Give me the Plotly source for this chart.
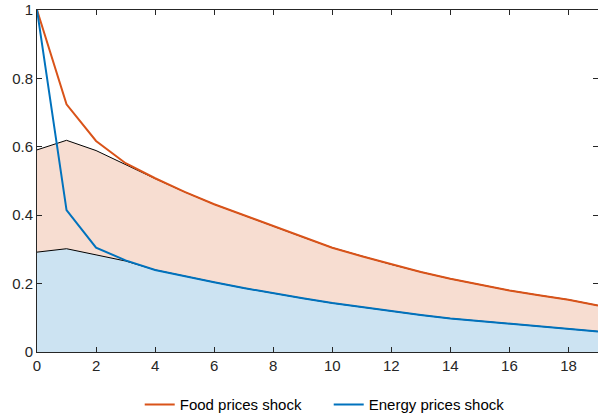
import plotly.graph_objects as go

horizons = list(range(20))
food = [1.0, 0.724, 0.617, 0.552, 0.508, 0.468, 0.432, 0.400, 0.367, 0.336, 0.305,
        0.280, 0.256, 0.234, 0.214, 0.197, 0.180, 0.166, 0.153, 0.136]
energy = [1.0, 0.415, 0.305, 0.268, 0.240, 0.221, 0.204, 0.187, 0.171, 0.157, 0.143,
          0.131, 0.119, 0.108, 0.098, 0.090, 0.082, 0.075, 0.068, 0.060]
food_band = [0.591, 0.619, 0.589, 0.547, 0.507, 0.468, 0.432, 0.400, 0.367, 0.336, 0.305,
             0.280, 0.256, 0.234, 0.214, 0.197, 0.180, 0.166, 0.153, 0.136]
energy_band = [0.292, 0.302, 0.284, 0.266, 0.240, 0.221, 0.204, 0.187, 0.171, 0.157, 0.143,
               0.131, 0.119, 0.108, 0.098, 0.090, 0.082, 0.075, 0.068, 0.060]

ORANGE = "#D95319"
BLUE = "#0072BD"

fig = go.Figure()
fig.add_trace(go.Scatter(x=horizons, y=food_band, mode="lines", fill="tozeroy",
                         fillcolor="#F7DDD1", line=dict(color="black", width=1),
                         showlegend=False, hoverinfo="skip"))
fig.add_trace(go.Scatter(x=horizons, y=energy_band, mode="lines", fill="tozeroy",
                         fillcolor="#CCE3F2", line=dict(color="black", width=1),
                         showlegend=False, hoverinfo="skip"))
fig.add_trace(go.Scatter(x=horizons, y=food, mode="lines", name="Food prices shock",
                         line=dict(color=ORANGE, width=2)))
fig.add_trace(go.Scatter(x=horizons, y=energy, mode="lines", name="Energy prices shock",
                         line=dict(color=BLUE, width=2)))

axis_common = dict(showgrid=False, zeroline=False, showline=True, linecolor="#262626",
                   linewidth=1, ticks="inside", ticklen=5, tickcolor="#262626",
                   mirror="ticks", automargin=False,
                   tickfont=dict(family="Liberation Sans, Arial", size=15, color="#262626"))

fig.update_layout(
    width=598, height=415,
    margin=dict(l=37, r=0, t=10, b=63),
    plot_bgcolor="white", paper_bgcolor="white",
    xaxis=dict(range=[0, 19], tickvals=list(range(0, 19, 2)), ticklabelstandoff=0,
               **axis_common),
    yaxis=dict(range=[0, 1], tickvals=[0, 0.2, 0.4, 0.6, 0.8, 1],
               ticktext=["0", "0.2", "0.4", "0.6", "0.8", "1"], **axis_common),
    legend=dict(orientation="h", x=0.52, xanchor="center", yref="container",
                y=0.025, yanchor="middle", entrywidth=144,
                font=dict(family="Liberation Sans, Arial", size=15, color="black"),
                itemwidth=30, tracegroupgap=0),
)

fig.write_html("out.html")
